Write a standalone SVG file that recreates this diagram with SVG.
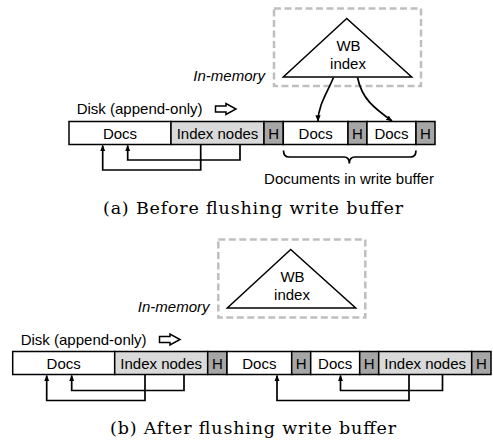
<svg xmlns="http://www.w3.org/2000/svg" width="493" height="441" viewBox="0 0 493 441">
  <style>
    .cell { stroke: #000; stroke-width: 1.5; }
    .docs { fill: #fff; }
    .idx { fill: #d9d9d9; }
    .hdr { fill: #a6a6a6; }
    .t { font-family: "Liberation Sans", Arial, sans-serif; font-size: 15px; fill: #000; }
    .c { text-anchor: middle; }
    .it { font-style: italic; text-anchor: end; }
    .mem { fill: none; stroke: #bfbfbf; stroke-width: 2.5; stroke-dasharray: 7 3.5; }
    .tri { fill: #fff; stroke: #000; stroke-width: 1.5; stroke-linejoin: miter; }
    .link { fill: none; stroke: #000; stroke-width: 1.7; }
    .hollow { fill: #fff; stroke: #000; stroke-width: 1.5; stroke-linejoin: miter; }
    .cap { font-family: "DejaVu Serif", "Liberation Serif", serif; font-size: 17.5px; text-anchor: middle; fill: #000; }
  </style>
  <defs>
    <marker id="head" viewBox="0 0 10 10" refX="9" refY="5" markerWidth="6.5" markerHeight="6.5" markerUnits="userSpaceOnUse" orient="auto">
      <path d="M0,1 L10,5 L0,9 z" fill="#000"/>
    </marker>
  </defs>

  <!-- (a) before flushing -->
  <g id="a-memory">
    <rect class="mem" x="274" y="8.5" width="147" height="77.5"/>
    <text class="t it" x="265" y="81">In-memory</text>
  </g>
  <g id="a-wb-index">
    <polygon class="tri" points="346.7,18.5 283.3,77 411.7,77"/>
    <text class="t c" x="348.5" y="50.5">WB</text>
    <text class="t c" x="348" y="68.5">index</text>
  </g>
  <g id="a-disk-label">
    <text class="t" x="76.7" y="114">Disk (append-only)</text>
    <polygon class="hollow" points="215.5,106 226,106 226,103.5 236,109 226,114.5 226,112 215.5,112"/>
  </g>
  <g id="a-docs1"><rect class="cell docs" x="69" y="121.5" width="102" height="23"/><text class="t c" x="120" y="138.5">Docs</text></g>
  <g id="a-index1"><rect class="cell idx" x="171" y="121.5" width="93" height="23"/><text class="t c" x="217.5" y="138.5">Index nodes</text></g>
  <g id="a-h1"><rect class="cell hdr" x="264" y="121.5" width="19.3" height="23"/><text class="t c" x="273.7" y="138.5">H</text></g>
  <g id="a-docs2"><rect class="cell docs" x="283.3" y="121.5" width="64.7" height="23"/><text class="t c" x="315.7" y="138.5">Docs</text></g>
  <g id="a-h2"><rect class="cell hdr" x="348" y="121.5" width="19" height="23"/><text class="t c" x="357.5" y="138.5">H</text></g>
  <g id="a-docs3"><rect class="cell docs" x="367" y="121.5" width="49" height="23"/><text class="t c" x="391.5" y="138.5">Docs</text></g>
  <g id="a-h3"><rect class="cell hdr" x="416" y="121.5" width="19" height="23"/><text class="t c" x="425.5" y="138.5">H</text></g>
  <g id="a-write-buffer">
    <path class="link" d="M283.5,150.5 Q283.5,157 289,157 L344,157 Q349.3,157 349.3,163.5 Q349.3,157 355,157 L410.5,157 Q416,157 416,150.5"/>
    <text class="t c" x="349" y="184">Documents in write buffer</text>
  </g>
  <text class="cap" x="253" y="214" textLength="300" lengthAdjust="spacing">(a) Before flushing write buffer</text>

  <!-- (b) after flushing -->
  <g id="b-memory">
    <rect class="mem" x="218.3" y="239.5" width="147" height="78"/>
    <text class="t it" x="209.5" y="312">In-memory</text>
  </g>
  <g id="b-wb-index">
    <polygon class="tri" points="290.7,249.5 227.3,308 355.7,308"/>
    <text class="t c" x="292.5" y="281.5">WB</text>
    <text class="t c" x="292" y="299.5">index</text>
  </g>
  <g id="b-disk-label">
    <text class="t" x="20.7" y="344.5">Disk (append-only)</text>
    <polygon class="hollow" points="159.5,336.5 170,336.5 170,334 180,339.5 170,345 170,342.5 159.5,342.5"/>
  </g>
  <g id="b-docs1"><rect class="cell docs" x="12.7" y="351.5" width="102" height="23"/><text class="t c" x="63.7" y="368.5">Docs</text></g>
  <g id="b-index1"><rect class="cell idx" x="114.7" y="351.5" width="93" height="23"/><text class="t c" x="161.2" y="368.5">Index nodes</text></g>
  <g id="b-h1"><rect class="cell hdr" x="207.7" y="351.5" width="19.3" height="23"/><text class="t c" x="217.4" y="368.5">H</text></g>
  <g id="b-docs2"><rect class="cell docs" x="227" y="351.5" width="64.7" height="23"/><text class="t c" x="259.3" y="368.5">Docs</text></g>
  <g id="b-h2"><rect class="cell hdr" x="291.7" y="351.5" width="19" height="23"/><text class="t c" x="301.2" y="368.5">H</text></g>
  <g id="b-docs3"><rect class="cell docs" x="310.7" y="351.5" width="49" height="23"/><text class="t c" x="335.2" y="368.5">Docs</text></g>
  <g id="b-h3"><rect class="cell hdr" x="359.7" y="351.5" width="19" height="23"/><text class="t c" x="369.2" y="368.5">H</text></g>
  <g id="b-index2"><rect class="cell idx" x="378.7" y="351.5" width="93" height="23"/><text class="t c" x="425.2" y="368.5">Index nodes</text></g>
  <g id="b-h4"><rect class="cell hdr" x="471.7" y="351.5" width="19.3" height="23"/><text class="t c" x="481.3" y="368.5">H</text></g>
  <text class="cap" x="253" y="433.5" textLength="286" lengthAdjust="spacing">(b) After flushing write buffer</text>

  <!-- pointers -->
  <g id="connectors">
    <path class="link" d="M333.5,77.5 C327,93 318,106 318,121" marker-end="url(#head)"/>
    <path class="link" d="M357.5,77.5 C362,99 374,108 392,121" marker-end="url(#head)"/>
    <path class="link" d="M200.7,145 V170 H102.7 V145.5" marker-end="url(#head)"/>
    <path class="link" d="M240,145 V160 H127.7 V145.5" marker-end="url(#head)"/>
    <path class="link" d="M145,375 V400.5 H46.7 V375.5" marker-end="url(#head)"/>
    <path class="link" d="M184,375 V390.5 H71.7 V375.5" marker-end="url(#head)"/>
    <path class="link" d="M409,375 V400.5 H277 V375.5" marker-end="url(#head)"/>
    <path class="link" d="M442.5,375 V390.5 H340.5 V375.5" marker-end="url(#head)"/>
  </g>
</svg>
